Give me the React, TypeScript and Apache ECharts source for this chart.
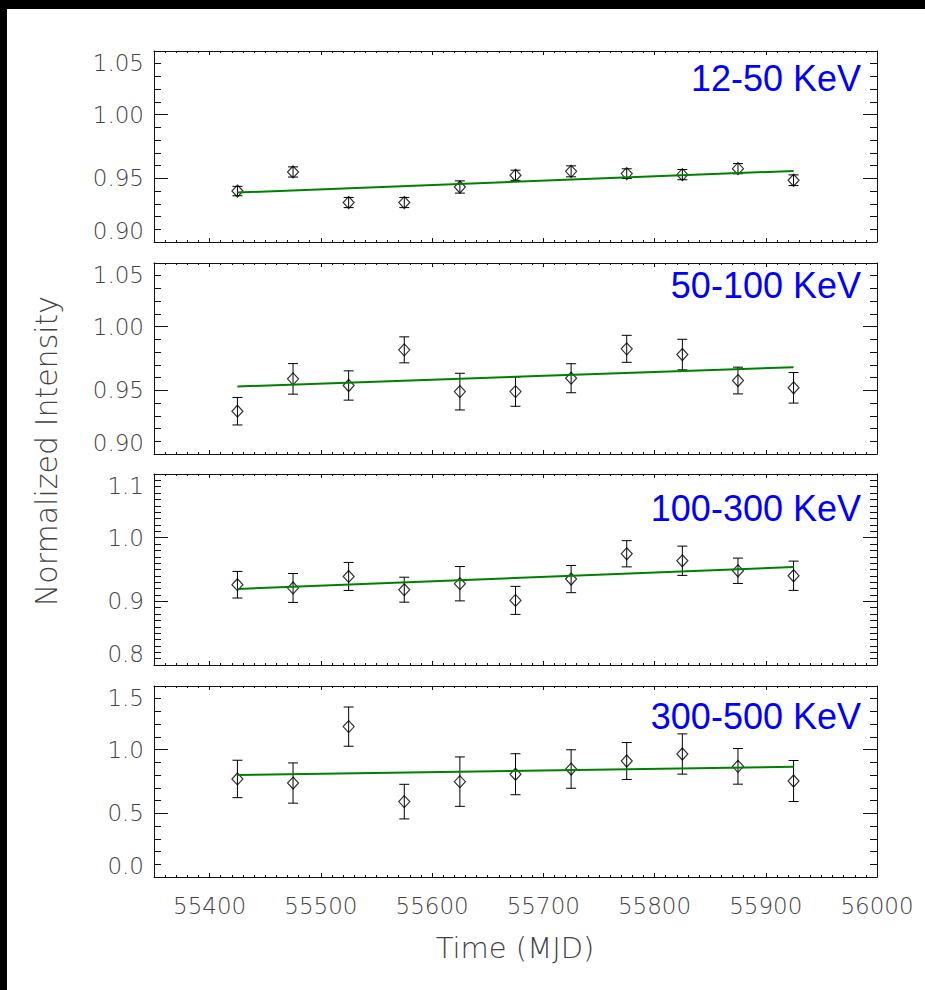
import React, { useEffect, useRef } from 'react';
import * as echarts from 'echarts';

// ---- data ----
const times = [55425, 55475, 55525, 55575, 55625, 55675, 55725, 55775, 55825, 55875, 55925];
const bandLabels = ['12-50 KeV', '50-100 KeV', '100-300 KeV', '300-500 KeV'];

const values1 = [0.9400, 0.9550, 0.9310, 0.9310, 0.9432, 0.9524, 0.9555, 0.9537, 0.9529, 0.9576, 0.9485];
const errors1 = [0.0037, 0.0040, 0.0040, 0.0040, 0.0048, 0.0040, 0.0043, 0.0038, 0.0040, 0.0040, 0.0042];

const values2 = [0.9336, 0.9590, 0.9538, 0.9818, 0.9490, 0.9490, 0.9595, 0.9826, 0.9781, 0.9577, 0.9520];
const errors2 = [0.0108, 0.0120, 0.0115, 0.0102, 0.0144, 0.0115, 0.0114, 0.0106, 0.0120, 0.0105, 0.0120];

const values3 = [0.9261, 0.9210, 0.9391, 0.9183, 0.9277, 0.9015, 0.9350, 0.9747, 0.9637, 0.9480, 0.9402];
const errors3 = [0.0209, 0.0227, 0.0220, 0.0196, 0.0270, 0.0220, 0.0214, 0.0206, 0.0230, 0.0199, 0.0230];

const values4 = [0.770, 0.738, 1.181, 0.592, 0.749, 0.807, 0.848, 0.911, 0.966, 0.869, 0.754];
const errors4 = [0.147, 0.158, 0.154, 0.136, 0.194, 0.161, 0.151, 0.145, 0.158, 0.140, 0.161];

const fitTimes = [55425, 55925];
const fit1 = [0.9388, 0.9558];
const fit2 = [0.9530, 0.9682];
const fit3 = [0.9194, 0.9538];
const fit4 = [0.801, 0.866];

const yMins = [0.9, 0.9, 0.8, 0.0];
const yMaxs = [1.05, 1.05, 1.1, 1.5];
const yIntervals = [0.05, 0.05, 0.1, 0.5];
const yMinorSplits = [5, 5, 10, 5];
const yDecimals = [2, 2, 1, 1];

const xMin = 55350;
const xMax = 56000;
const xMajorTicks = [55400, 55500, 55600, 55700, 55800, 55900, 56000];
const xMinorStep = 10;

const yTitle = 'Normalized Intensity';
const xTitle = 'Time (MJD)';

const panelValues = [values1, values2, values3, values4];
const panelErrors = [errors1, errors2, errors3, errors4];
const panelFits = [fit1, fit2, fit3, fit4];

export default function App() {
  const ref = useRef<HTMLDivElement>(null);

  useEffect(() => {
    if (!ref.current) return;
    const chart = echarts.init(ref.current, null, { renderer: 'svg' });

    const font = 'DejaVu Sans';
    const labelColor = '#444';
    const axisColor = '#111';
    const gridLeft = 154;
    const gridWidth = 723;
    const gridHeight = 191;
    const gridTops = [51, 263, 474, 686];
    const labelYs = [78, 285, 508, 716];

    const xMinorTicks: number[] = [];
    for (let t = xMin + xMinorStep; t < xMax; t += xMinorStep) {
      if (t % 100 !== 0) xMinorTicks.push(t);
    }

    const grids: any[] = [];
    const xAxes: any[] = [];
    const yAxes: any[] = [];
    const series: any[] = [];
    const lineStyle = { color: axisColor, width: 1 };

    for (let i = 0; i < 4; i++) {
      grids.push({ left: gridLeft, top: gridTops[i], width: gridWidth, height: gridHeight });
      const isBottom = i === 3;
      const xBase = {
        type: 'value',
        gridIndex: i,
        min: xMin,
        max: xMax,
        splitLine: { show: false },
      };
      for (const pos of ['bottom', 'top']) {
        xAxes.push({
          ...xBase,
          position: pos,
          axisLine: { show: true, onZero: false, lineStyle },
          axisTick: { show: true, inside: true, length: 4, customValues: xMajorTicks, lineStyle },
          axisLabel: {
            show: isBottom && pos === 'bottom',
            customValues: xMajorTicks,
            margin: 17,
            fontSize: 23,
            fontFamily: font,
            fontWeight: 'lighter',
            color: labelColor,
            formatter: (v: number) => String(v),
          },
        });
        xAxes.push({
          ...xBase,
          position: pos,
          axisLine: { show: false, onZero: false },
          axisTick: { show: true, inside: true, length: 2, customValues: xMinorTicks, lineStyle },
          axisLabel: { show: false },
        });
      }
      for (const pos of ['left', 'right']) {
        yAxes.push({
          type: 'value',
          gridIndex: i,
          position: pos,
          min: yMins[i],
          max: yMaxs[i],
          interval: yIntervals[i],
          splitLine: { show: false },
          minorSplitLine: { show: false },
          axisLine: { show: true, onZero: false, lineStyle },
          axisTick: { show: true, inside: true, length: 14, lineStyle },
          minorTick: { show: true, splitNumber: yMinorSplits[i], length: 7, lineStyle },
          axisLabel: {
            show: pos === 'left',
            margin: 10,
            fontSize: 23,
            fontFamily: font,
            fontWeight: 'lighter',
            color: labelColor,
            verticalAlignMinLabel: 'bottom',
            verticalAlignMaxLabel: 'top',
            formatter: (v: number) => v.toFixed(yDecimals[i]),
          },
        });
      }

      const xIdx = i * 4;
      const yIdx = i * 2;
      const vals = panelValues[i];
      const errs = panelErrors[i];
      const fit = panelFits[i];

      series.push({
        type: 'custom',
        xAxisIndex: xIdx,
        yAxisIndex: yIdx,
        silent: true,
        z: 2,
        encode: { x: 0, y: [1, 2] },
        data: times.map((t, k) => [t, vals[k] - errs[k], vals[k] + errs[k]]),
        renderItem: (params: any, api: any) => {
          const x = api.value(0);
          const pLo = api.coord([x, api.value(1)]);
          const pHi = api.coord([x, api.value(2)]);
          const hw = 5;
          const style = { stroke: '#000', lineWidth: 1, fill: 'none' };
          return {
            type: 'group',
            children: [
              { type: 'line', shape: { x1: pLo[0], y1: pLo[1], x2: pHi[0], y2: pHi[1] }, style },
              { type: 'line', shape: { x1: pLo[0] - hw, y1: pLo[1], x2: pLo[0] + hw, y2: pLo[1] }, style },
              { type: 'line', shape: { x1: pHi[0] - hw, y1: pHi[1], x2: pHi[0] + hw, y2: pHi[1] }, style },
            ],
          };
        },
      });
      series.push({
        type: 'scatter',
        xAxisIndex: xIdx,
        yAxisIndex: yIdx,
        symbol: 'diamond',
        symbolSize: [11, 12],
        silent: true,
        z: 3,
        itemStyle: { color: 'rgba(255,255,255,0)', borderColor: '#000', borderWidth: 1.2 },
        data: times.map((t, k) => [t, vals[k]]),
      });
      series.push({
        type: 'line',
        xAxisIndex: xIdx,
        yAxisIndex: yIdx,
        symbol: 'none',
        silent: true,
        z: 4,
        lineStyle: { color: '#008000', width: 2 },
        data: fitTimes.map((t, k) => [t, fit[k]]),
      });
    }

    const graphic: any[] = [
      { type: 'rect', shape: { x: 0, y: 0, width: 925, height: 9 }, style: { fill: '#000' }, silent: true },
      { type: 'rect', shape: { x: 0, y: 0, width: 7, height: 990 }, style: { fill: '#000' }, silent: true },
      {
        type: 'text',
        x: 46,
        y: 451,
        rotation: Math.PI / 2,
        style: {
          text: yTitle,
          fontSize: 30,
          fontFamily: font,
          fontWeight: 'lighter',
          fill: labelColor,
          align: 'center',
          verticalAlign: 'middle',
        },
        silent: true,
      },
      {
        type: 'text',
        x: 515,
        y: 948,
        style: {
          text: xTitle,
          fontSize: 29,
          fontFamily: font,
          fontWeight: 'lighter',
          fill: labelColor,
          align: 'center',
          verticalAlign: 'middle',
        },
        silent: true,
      },
    ];
    bandLabels.forEach((lab, i) => {
      graphic.push({
        type: 'text',
        x: 861,
        y: labelYs[i],
        z: 10,
        style: {
          text: lab,
          fontSize: 36,
          fontFamily: 'Liberation Sans',
          fill: '#0000ff',
          align: 'right',
          verticalAlign: 'middle',
        },
        silent: true,
      });
    });

    chart.setOption({
      animation: false,
      backgroundColor: '#fff',
      grid: grids,
      xAxis: xAxes,
      yAxis: yAxes,
      series,
      graphic,
    });

    return () => chart.dispose();
  }, []);

  return (
    <div
      ref={ref}
      style={{ position: 'absolute', left: 0, top: 0, width: 925, height: 990, background: '#fff' }}
    />
  );
}
